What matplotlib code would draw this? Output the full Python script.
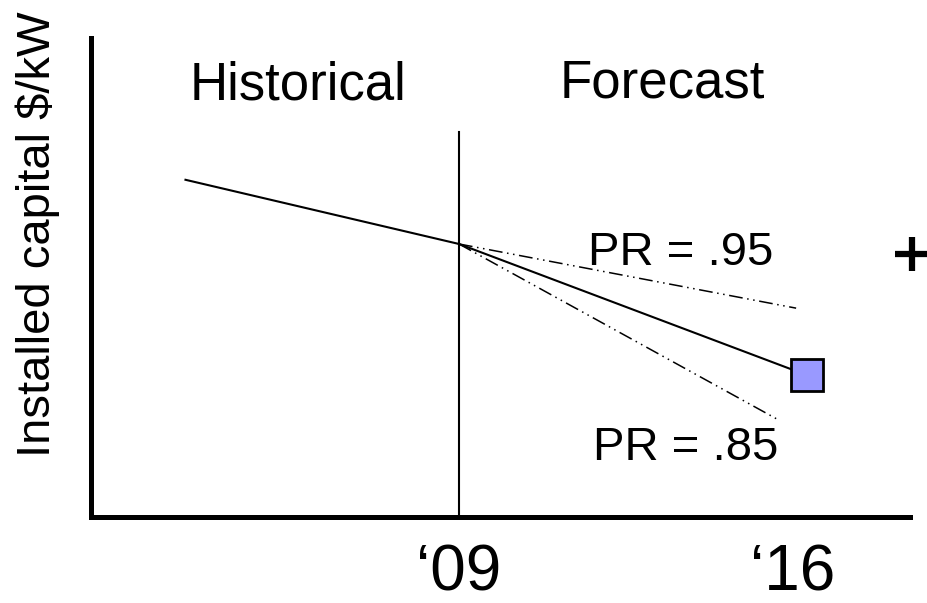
import matplotlib.pyplot as plt
from matplotlib.transforms import ScaledTranslation

plt.rcParams['font.family'] = ['Liberation Sans', 'DejaVu Sans']

# historical trend up to '09, then three forecast paths to '16
hist_years = [2003.5, 2009]
hist_cost = [70.4, 57.0]

base_years = [2009, 2016]
base_cost = [57.0, 29.6]

pr95_years = [2009, 2015.78]
pr95_cost = [57.0, 43.6]

pr85_years = [2009, 2015.42]
pr85_cost = [57.0, 20.3]

divider_year = 2009
divider_top = 80.4

tick_years = [2009, 2016]
tick_labels = ['\u201809', '\u201816']

fig = plt.figure(figsize=(9.27, 6.03), dpi=100)
ax = fig.add_axes([91 / 927, 86 / 603, 819 / 927, 479 / 603])

dashdotdot = (0, (9, 3, 1, 3, 1, 3))

ax.plot(hist_years, hist_cost, color='black', lw=1.5)
ax.plot([divider_year, divider_year], [0, divider_top], color='black', lw=1.5)
ax.plot(pr95_years, pr95_cost, color='black', lw=1.1, ls=dashdotdot)
ax.plot(pr85_years, pr85_cost, color='black', lw=1.1, ls=dashdotdot)
ax.plot(base_years, base_cost, color='black', lw=1.5)
ax.plot(base_years[-1], base_cost[-1], marker='s', ms=23, mfc='#9999ff',
        mec='black', mew=2.0, zorder=5)

# stray plus sign just right of the plot area
ax.plot(2018.11, 54.9, marker='+', ms=25, mew=4.5, color='black', clip_on=False)

ax.text(2003.59, 87.1, 'Historical', fontsize=38, va='baseline')
ax.text(2011.03, 87.5, 'Forecast', fontsize=38, va='baseline')
ax.text(2011.6, 52.6, 'PR = .95', fontsize=34, va='baseline')
ax.text(2011.7, 11.9, 'PR = .85', fontsize=34, va='baseline')

ax.set_xlim(2001.6, 2018.07)
ax.set_ylim(0, 100)
ax.set_xticks(tick_years)
ax.set_xticklabels(tick_labels, fontsize=46)
ax.tick_params(axis='x', length=0, pad=19)
ax.set_yticks([])

# the '16 label sits a little left of its tick
last = ax.get_xticklabels()[-1]
last.set_transform(last.get_transform() + ScaledTranslation(-0.14, 0, fig.dpi_scale_trans))

for side in ['top', 'right']:
    ax.spines[side].set_visible(False)
for side in ['left', 'bottom']:
    ax.spines[side].set_linewidth(3.6)
    ax.spines[side].set_capstyle('projecting')

fig.text(38 / 927, 1 - 234 / 603, 'Installed capital $/kW', fontsize=34,
         rotation=90, ha='center', va='center')

fig.savefig('out.png', dpi=100)
